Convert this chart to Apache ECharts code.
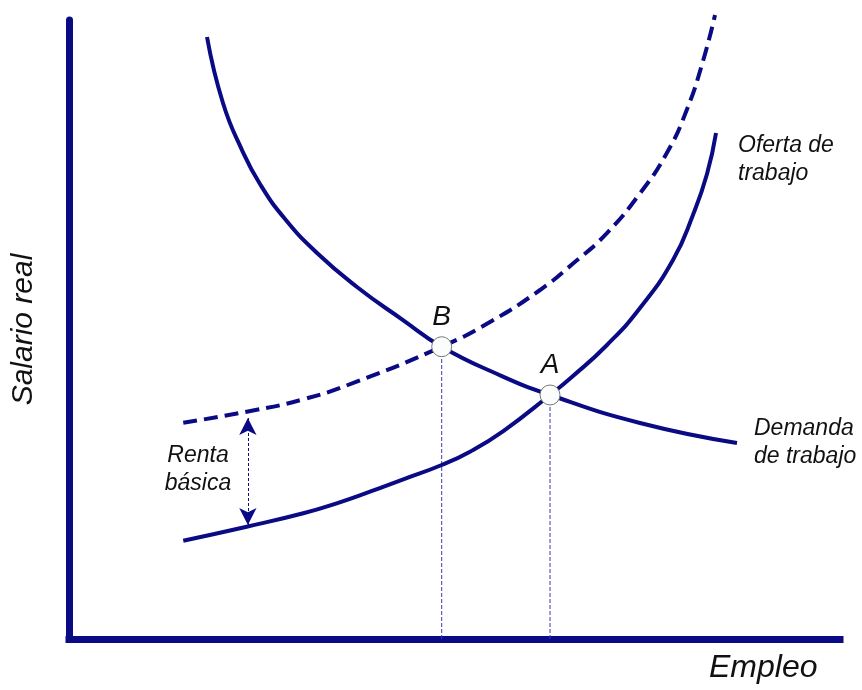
<!DOCTYPE html>
<html>
<head>
<meta charset="utf-8">
<script src="https://cdn.jsdelivr.net/npm/echarts@6/dist/echarts.min.js"></script>
<style>
  html, body { margin: 0; padding: 0; background: #fff; }
  #chart-container { width: 862px; height: 690px; }
</style>
</head>
<body>
<div id="chart-container"></div>
<script>
// schematic units: Empleo 0-100, Salario real 0-100
var demandX = [17.90, 19.97, 22.44, 24.77, 28.02, 32.17, 37.35, 43.32, 48.34, 55.25, 62.39, 74.06, 86.64];
var demandY = [97.25, 86.59, 78.99, 73.51, 67.85, 62.36, 56.87, 51.53, 47.22, 42.97, 39.42, 34.89, 31.66];

var supplyX = [14.82, 23.05, 30.39, 34.72, 39.04, 43.36, 48.34, 52.01, 56.33, 62.39, 65.37, 69.78, 74.06, 78.34, 80.93, 82.75, 83.92];
var supplyY = [15.88, 18.14, 20.31, 21.92, 23.80, 25.80, 28.11, 30.26, 33.60, 39.42, 42.49, 47.50, 53.47, 61.23, 68.50, 75.12, 81.74];

var supply2X = [14.82, 23.05, 30.39, 37.31, 48.34, 54.60, 61.09, 65.41, 69.74, 74.06, 77.52, 80.12, 82.27, 83.79];
var supply2Y = [34.94, 36.72, 38.72, 41.57, 47.22, 51.21, 56.38, 60.69, 65.54, 72.00, 78.47, 85.46, 93.54, 100.81];

var eqNames = ["B", "A"];
var eqX = [48.34, 62.39];
var eqY = [47.22, 39.42];

var rentaX = 23.2;
var rentaTop = 35.7;
var rentaBottom = 18.4;

var navy = "#0a0a84";
var textFont = "Liberation Sans, Arial, sans-serif";

function zip(xs, ys) {
  return xs.map(function (x, i) { return [x, ys[i]]; });
}

var dom = document.getElementById("chart-container");
var myChart = echarts.init(dom, null, { renderer: "canvas" });

var guideSeries = eqX.map(function (x, i) {
  return {
    type: "line",
    data: [[x, 0], [x, eqY[i]]],
    showSymbol: false,
    silent: true,
    z: 1,
    lineStyle: { color: "#3b3bb0", width: 1, type: [4, 2] }
  };
});

var option = {
  animation: false,
  grid: { left: 69, right: 22, top: 20, bottom: 51 },
  xAxis: {
    type: "value",
    min: 0,
    max: 100,
    axisLine: { show: true, lineStyle: { color: navy, width: 7, cap: "square" } },
    axisTick: { show: false },
    axisLabel: { show: false },
    splitLine: { show: false }
  },
  yAxis: {
    type: "value",
    min: 0,
    max: 100,
    name: "Salario real",
    nameLocation: "middle",
    nameGap: 30,
    nameTextStyle: { fontFamily: textFont, fontStyle: "italic", fontSize: 30, color: "#111" },
    axisLine: { show: true, lineStyle: { color: navy, width: 7 } },
    axisTick: { show: false },
    axisLabel: { show: false },
    splitLine: { show: false }
  },
  graphic: [
    {
      type: "text",
      left: 709,
      top: 652,
      style: { text: "Empleo", font: "italic 32px " + textFont, fill: "#111" }
    },
    {
      type: "text",
      x: 198,
      y: 442,
      style: {
        text: "Renta\nbásica",
        font: "italic 23px " + textFont,
        fill: "#111",
        align: "center",
        lineHeight: 28
      }
    }
  ],
  series: guideSeries.concat([
    {
      name: "Demanda de trabajo",
      type: "line",
      data: zip(demandX, demandY),
      smooth: 0.5,
      showSymbol: false,
      z: 3,
      lineStyle: { color: navy, width: 4 },
      endLabel: {
        show: true,
        formatter: "Demanda\nde trabajo",
        distance: 17,
        fontFamily: textFont,
        fontStyle: "italic",
        fontSize: 23,
        lineHeight: 28,
        color: "#111"
      }
    },
    {
      name: "Oferta de trabajo",
      type: "line",
      data: zip(supplyX, supplyY),
      smooth: 0.5,
      showSymbol: false,
      z: 3,
      lineStyle: { color: navy, width: 4 },
      endLabel: {
        show: true,
        formatter: "Oferta de\ntrabajo",
        distance: 22,
        offset: [0, 27],
        fontFamily: textFont,
        fontStyle: "italic",
        fontSize: 23,
        lineHeight: 28,
        color: "#111"
      },
      markLine: {
        silent: true,
        symbol: ["arrow", "arrow"],
        symbolSize: [13, 17],
        label: { show: false },
        lineStyle: { color: navy, width: 1, type: [3, 2] },
        data: [[{ coord: [rentaX, rentaTop] }, { coord: [rentaX, rentaBottom] }]]
      }
    },
    {
      name: "Oferta con renta básica",
      type: "line",
      data: zip(supply2X, supply2Y),
      smooth: 0.5,
      showSymbol: false,
      clip: false,
      z: 3,
      lineStyle: { color: navy, width: 4, type: [14, 7] }
    },
    {
      type: "scatter",
      data: eqX.map(function (x, i) { return { name: eqNames[i], value: [x, eqY[i]] }; }),
      symbolSize: 20,
      z: 5,
      itemStyle: { color: "#fbfdfd", opacity: 1, borderColor: "#777", borderWidth: 1 },
      label: {
        show: true,
        position: "top",
        distance: 5,
        formatter: "{b}",
        fontFamily: textFont,
        fontStyle: "italic",
        fontSize: 28,
        color: "#111"
      }
    }
  ])
};

myChart.setOption(option);
window.addEventListener("resize", myChart.resize);
</script>
</body>
</html>
